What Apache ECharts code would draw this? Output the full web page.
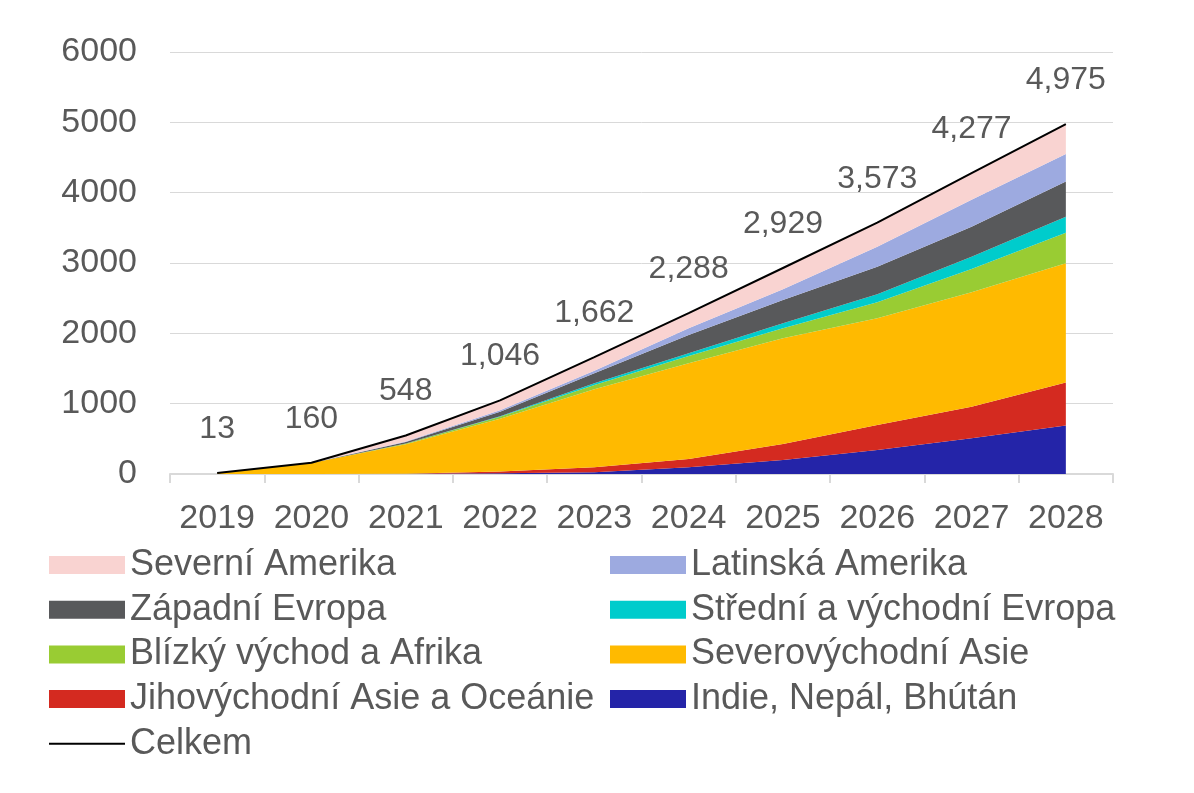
<!DOCTYPE html>
<html>
<head>
<meta charset="utf-8">
<script src="https://cdn.jsdelivr.net/npm/echarts@6/dist/echarts.min.js"></script>
<style>
html,body{margin:0;padding:0;background:#fff;}
#chart{width:1194px;height:793px;}
</style>
</head>
<body>
<div id="chart"></div>
<script>
const years = ['2019','2020','2021','2022','2023','2024','2025','2026','2027','2028'];
const yTicks = [0, 1000, 2000, 3000, 4000, 5000, 6000];

const indie       = [0, 0, 2, 10, 25, 95, 199, 341, 507, 690];
const jvAsie      = [0, 1, 3, 25, 70, 118, 228, 356, 450, 610];
const svAsie      = [12, 154, 417, 750, 1109, 1361, 1502, 1516, 1626, 1696];
const blizkyVych  = [0, 1, 10, 28, 61, 104, 142, 228, 332, 435];
const stredniEvr  = [0, 0, 3, 8, 25, 38, 71, 114, 175, 228];
const zapadniEvr  = [0, 1, 20, 65, 142, 260, 332, 393, 426, 498];
const latinAm     = [0, 0, 7, 20, 37, 95, 152, 284, 385, 392];
const severniAm   = [1, 3, 86, 140, 193, 217, 303, 341, 376, 426];
const celkem      = [13, 160, 548, 1046, 1662, 2288, 2929, 3573, 4277, 4975];

const areaDefs = [
  ['Indie, Nepál, Bhútán', indie, '#2424A8'],
  ['Jihovýchodní Asie a Oceánie', jvAsie, '#D42A20'],
  ['Severovýchodní Asie', svAsie, '#FFBA00'],
  ['Blízký východ a Afrika', blizkyVych, '#99CC33'],
  ['Střední a východní Evropa', stredniEvr, '#00CCCC'],
  ['Západní Evropa', zapadniEvr, '#58595B'],
  ['Latinská Amerika', latinAm, '#9DAAE0'],
  ['Severní Amerika', severniAm, '#F9D3D1']
];

const FONT = '"Liberation Sans", Arial, sans-serif';
const TXT = '#595959';

const series = areaDefs.map(d => ({
  name: d[0],
  type: 'line',
  stack: 'total',
  data: d[1],
  symbol: 'none',
  lineStyle: { width: 0, color: d[2] },
  itemStyle: { color: d[2] },
  areaStyle: { color: d[2], opacity: 1 },
  emphasis: { disabled: true },
  silent: true
}));

series.push({
  name: 'Celkem',
  type: 'line',
  data: celkem,
  symbol: 'circle',
  symbolSize: 0,
  showSymbol: true,
  lineStyle: { width: 2, color: '#000' },
  itemStyle: { color: '#000' },
  label: {
    show: true,
    position: 'top',
    distance: 28,
    color: TXT,
    fontSize: 32,
    fontFamily: FONT,
    formatter: p => p.value.toLocaleString('en-US')
  },
  emphasis: { disabled: true },
  silent: true,
  z: 10
});

const legendCommon = {
  orient: 'vertical',
  padding: 0,
  itemWidth: 76,
  itemHeight: 18,
  itemGap: 4.7,
  itemTextGap: 10,
  textStyle: { color: TXT, fontSize: 36, fontFamily: FONT, lineHeight: 40 },
  selectedMode: false
};

const option = {
  animation: false,
  backgroundColor: '#fff',
  grid: { left: 170, right: 81, top: 52, bottom: 319 },
  xAxis: {
    type: 'category',
    data: years,
    boundaryGap: true,
    axisLine: { lineStyle: { color: '#D9D9D9', width: 2 } },
    axisTick: { show: true, length: 9, lineStyle: { color: '#D9D9D9', width: 2 } },
    axisLabel: { color: TXT, fontSize: 34, fontFamily: FONT, margin: 28, interval: 0 }
  },
  yAxis: {
    type: 'value',
    min: yTicks[0],
    max: yTicks[yTicks.length - 1],
    interval: 1000,
    axisLine: { show: false },
    axisTick: { show: false },
    splitLine: { lineStyle: { color: '#D9D9D9', width: 1 } },
    axisLabel: { color: TXT, fontSize: 34, fontFamily: FONT, margin: 33, formatter: v => String(v) }
  },
  legend: [
    Object.assign({}, legendCommon, {
      left: 48, top: 545,
      data: [
        { name: 'Severní Amerika', icon: 'rect' },
        { name: 'Západní Evropa', icon: 'rect' },
        { name: 'Blízký východ a Afrika', icon: 'rect' },
        { name: 'Jihovýchodní Asie a Oceánie', icon: 'rect' },
        { name: 'Celkem', itemStyle: { opacity: 0 } }
      ]
    }),
    Object.assign({}, legendCommon, {
      left: 610, top: 545,
      data: [
        { name: 'Latinská Amerika', icon: 'rect' },
        { name: 'Střední a východní Evropa', icon: 'rect' },
        { name: 'Severovýchodní Asie', icon: 'rect' },
        { name: 'Indie, Nepál, Bhútán', icon: 'rect' }
      ]
    })
  ],
  series: series
};

const chart = echarts.init(document.getElementById('chart'), null, { renderer: 'canvas' });
chart.setOption(option);
</script>
</body>
</html>
